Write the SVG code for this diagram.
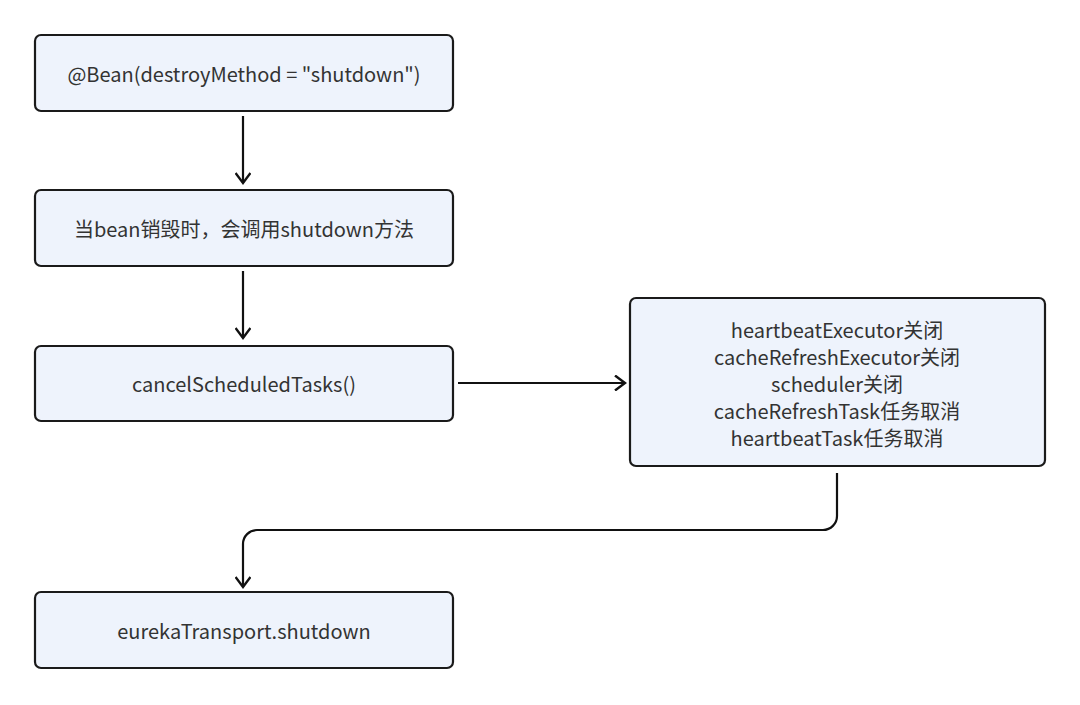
<svg xmlns="http://www.w3.org/2000/svg" width="1080" height="705" viewBox="0 0 1080 705">
<defs>
<style>
.box{fill:#eef3fc;stroke:#1a1a1a;stroke-width:2.2}
.t{font-family:"Noto Sans CJK SC","Noto Sans",sans-serif;font-size:20px;fill:#333;text-anchor:middle;dominant-baseline:central}
.c{fill:none;stroke:#111;stroke-width:2.2}
</style>
<marker id="arr" markerWidth="16" markerHeight="16" refX="12" refY="8" orient="auto" markerUnits="userSpaceOnUse">
<path d="M2,0.5 L12,8 L2,15.5" fill="none" stroke="#111" stroke-width="2.4"/>
</marker>
</defs>
<rect width="1080" height="705" fill="#fff"/>
<g id="connectors">
<path class="c" d="M243,116 V183" marker-end="url(#arr)"/>
<path class="c" d="M243,271 V338" marker-end="url(#arr)"/>
<path class="c" d="M458,383 H625" marker-end="url(#arr)"/>
<path class="c" d="M837,473 V516 A14,14 0 0 1 823,530 H257 A14,14 0 0 0 243,544 V587" marker-end="url(#arr)"/>
</g>
<g id="n1"><rect class="box" x="35" y="35" width="418" height="76" rx="6"/><text class="t" x="244" y="73">@Bean(destroyMethod = "shutdown")</text></g>
<g id="n2"><rect class="box" x="35" y="190" width="418" height="76" rx="6"/><text class="t" x="244" y="228">当bean销毁时，会调用shutdown方法</text></g>
<g id="n3"><rect class="box" x="35" y="346" width="418" height="75" rx="6"/><text class="t" x="244" y="383">cancelScheduledTasks()</text></g>
<g id="n4"><rect class="box" x="630" y="298" width="415" height="168" rx="6"/>
<text class="t" x="837" y="329">heartbeatExecutor关闭</text>
<text class="t" x="837" y="356">cacheRefreshExecutor关闭</text>
<text class="t" x="837" y="383">scheduler关闭</text>
<text class="t" x="837" y="410">cacheRefreshTask任务取消</text>
<text class="t" x="837" y="437">heartbeatTask任务取消</text>
</g>
<g id="n5"><rect class="box" x="35" y="592" width="418" height="76" rx="6"/><text class="t" x="244" y="630">eurekaTransport.shutdown</text></g>
</svg>
